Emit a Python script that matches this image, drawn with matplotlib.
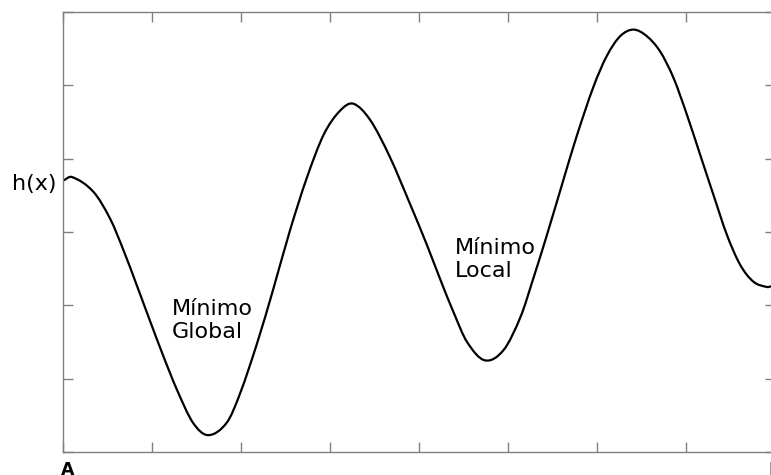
#grafico de h(x) entre A y B con un minimo global y un minimo local
import matplotlib.pyplot as plt
from matplotlib.path import Path
from matplotlib.patches import PathPatch

#puntos de la curva (x de 0 a 8, y de 0 a 6)
xs = [0.0, 0.10, 0.34, 0.53, 0.68, 0.83, 0.98, 1.13, 1.28, 1.46, 1.63,
      1.84, 1.99, 2.18, 2.36, 2.55, 2.74, 2.93, 3.11, 3.26,
      3.45, 3.67, 3.90, 4.09, 4.24, 4.39, 4.54, 4.74,
      4.95, 5.14, 5.28, 5.44, 5.62, 5.77, 5.96, 6.11, 6.26, 6.41,
      6.56, 6.71, 6.86, 7.01, 7.16, 7.31, 7.46, 7.61, 7.76, 7.91, 7.96]
ys = [3.70, 3.75, 3.55, 3.18, 2.75, 2.27, 1.78, 1.30, 0.85, 0.40, 0.23,
      0.40, 0.80, 1.48, 2.21, 3.02, 3.74, 4.33, 4.65, 4.75,
      4.53, 4.03, 3.38, 2.82, 2.35, 1.90, 1.50, 1.25,
      1.39, 1.84, 2.35, 2.97, 3.70, 4.30, 4.98, 5.40, 5.67, 5.76,
      5.67, 5.46, 5.10, 4.60, 4.05, 3.50, 2.96, 2.55, 2.32, 2.25, 2.26]

#tacche degli assi (senza etichette)
tacche_x = [0, 1, 2, 3, 4, 5, 6, 7, 8]
tacche_y = [0, 1, 2, 3, 4, 5, 6]

#testi
etiqueta_y = 'h(x)'
etiqueta_min_global = 'Mínimo\nGlobal'
etiqueta_min_local = 'Mínimo\nLocal'
extremos = ['A', 'B']

fig = plt.figure(figsize=(7.71, 4.75), dpi=100, facecolor='white')
#l'asse destro finisce fuori dalla figura come nell'originale
ax = fig.add_axes([63/771, 23/475, 712/771, 440/475])

#pendenze nei punti (differenze centrate) per disegnare la curva liscia
n = len(xs)
pend = []
for i in range(n):
    a = max(i - 1, 0)
    b = min(i + 1, n - 1)
    pend.append((ys[b] - ys[a]) / (xs[b] - xs[a]))

#bezier cubiche tra un punto e il successivo (hermite in x)
vertici = [(xs[0], ys[0])]
codici = [Path.MOVETO]
for i in range(n - 1):
    h = xs[i+1] - xs[i]
    vertici += [(xs[i] + h/3, ys[i] + pend[i]*h/3),
                (xs[i+1] - h/3, ys[i+1] - pend[i+1]*h/3),
                (xs[i+1], ys[i+1])]
    codici += [Path.CURVE4, Path.CURVE4, Path.CURVE4]
ax.add_patch(PathPatch(Path(vertici, codici), facecolor='none', edgecolor='black',
                       linewidth=1.6, capstyle='round', joinstyle='round'))

ax.set_xlim(0, 8)
ax.set_ylim(0, 6)
ax.set_xticks(tacche_x)
ax.set_yticks(tacche_y)
ax.set_xticklabels([])
ax.set_yticklabels([])
ax.tick_params(direction='in', length=7, width=1, color='#808080',
               top=True, right=True, bottom=True, left=True)
for s in ax.spines.values():
    s.set_color('#808080')
    s.set_linewidth(1)

#etichetta h(x) a sinistra
ax.text(-0.07, 3.66, etiqueta_y, fontsize=16, ha='right', va='center')

#etichette dei minimi
ax.text(1.225, 1.55, etiqueta_min_global, fontsize=16, ha='left', va='baseline', linespacing=1.2)
ax.text(4.40, 2.38, etiqueta_min_local, fontsize=16, ha='left', va='baseline', linespacing=1.2)

#A e B sotto l'asse
ax.text(0.05, -0.32, extremos[0], fontsize=12.5, fontweight='bold', ha='center', va='baseline', clip_on=False)
ax.text(8.0, -0.32, extremos[1], fontsize=12.5, fontweight='bold', ha='center', va='baseline', clip_on=False)

plt.savefig('out.png', dpi=100)
